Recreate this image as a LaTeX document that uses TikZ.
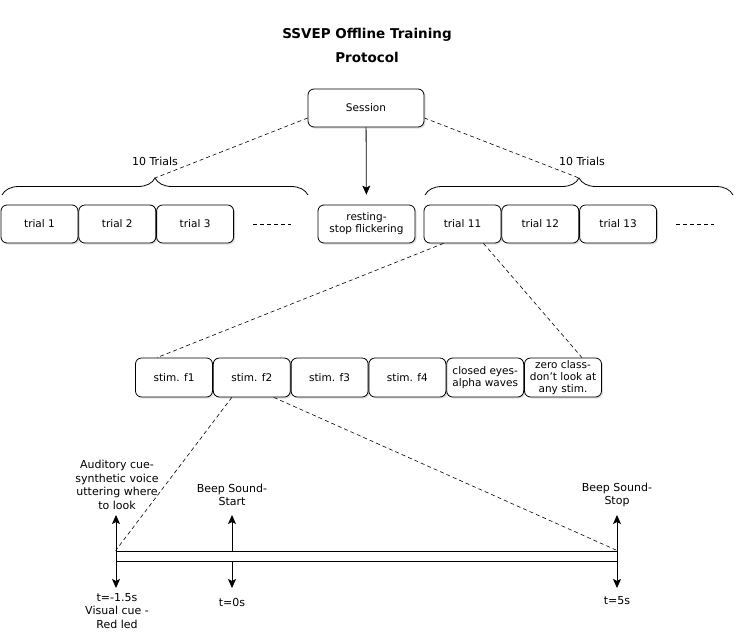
\documentclass[tikz,border=0pt]{standalone}
\usepackage{fontspec}
\setmainfont{DejaVu Sans}
\usetikzlibrary{
  positioning,
  arrows.meta,
  shadows,
  decorations.pathreplacing
}
\tikzset{
  block/.style={
    draw,
    rounded corners=6pt,
    fill=white,
    line width=0.8pt,
    align=center,
    inner sep=1pt,
    minimum width=77pt,
    minimum height=38pt,
    font=\fontsize{10.5}{12}\selectfont,
    drop shadow={shadow xshift=1.5pt, shadow yshift=-1.5pt, opacity=0.25}
  },
  link/.style={
    draw,
    line width=0.6pt,
    dash pattern=on 4pt off 3pt
  },
  tick/.style={
    draw,
    line width=0.8pt,
    -{Stealth[length=9pt,width=8pt,inset=2pt]}
  },
  caption/.style={
    align=center,
    font=\fontsize{11}{13.5}\selectfont
  },
  bracket/.style={
    draw,
    line width=0.8pt,
    decorate,
    decoration={brace, amplitude=17pt}
  }
}

\begin{document}
\begin{tikzpicture}[x=1pt, y=-1pt]
  \useasboundingbox (0,0) rectangle (739,635);

  \node[align=center, font=\bfseries\fontsize{13.5}{24}\selectfont] (title) at (367,45) {SSVEP Offline Training\\Protocol};

  \node[block, minimum width=116pt] (sess) at (366,108) {Session};

  % trials
  \node[block] (t1) at (39.5,224) {trial 1};
  \node[block, right=0pt of t1] (t2) {trial 2};
  \node[block, right=0pt of t2] (t3) {trial 3};
  \node[block, minimum width=97pt] (rest) at (366.5,224) {resting-\\stop flickering};
  \node[block] (t11) at (462.5,224) {trial 11};
  \node[block, right=0pt of t11] (t12) {trial 12};
  \node[block, right=0pt of t12] (t13) {trial 13};
  \draw[link] ([xshift=19pt]t3.east) -- ++(38pt,0);
  \draw[link] ([xshift=19pt]t13.east) -- ++(38pt,0);

  \draw[bracket] (2,195) -- (308,195);
  \draw[bracket] (425,195) -- (733,195);
  \coordinate (ltip) at (155,178);
  \coordinate (rtip) at (579,178);
  \node[caption] (ltrials) at (155,161) {10 Trials};
  \node[caption] (rtrials) at (582,161) {10 Trials};

  \draw[link] ([yshift=-10pt]sess.west) -- (ltip);
  \draw[link] ([yshift=-10pt]sess.east) -- (rtip);
  \draw[tick, shorten >=10pt] (sess) -- (rest);

  % stimuli
  \node[block, minimum height=39pt] (f1) at (174,377.5) {stim. f1};
  \node[block, minimum height=39pt, right=0pt of f1] (f2) {stim. f2};
  \node[block, minimum height=39pt, right=0pt of f2] (f3) {stim. f3};
  \node[block, minimum height=39pt, right=0pt of f3] (f4) {stim. f4};
  \node[block, minimum height=39pt, right=0pt of f4] (eyes) {closed eyes-\\alpha waves};
  \node[block, minimum height=39pt, right=0pt of eyes] (zero) {zero class-\\don't look at\\any stim.};

  \draw[link] ([xshift=-19pt]t11.south) -- ([xshift=-17pt]f1.north);
  \draw[link] ([xshift=21pt]t11.south) -- ([xshift=19pt]zero.north);

  % timeline
  \node[draw, line width=0.8pt, minimum width=501pt, minimum height=10pt, inner sep=0pt] (bar) at (366.5,556) {};
  \draw[link] ([xshift=-20pt]f2.south) -- (bar.north west);
  \draw[link] ([xshift=22pt]f2.south) -- (bar.north east);

  \foreach \x [count=\i] in {116,232,617} {
    \coordinate (up\i) at (\x,515);
    \coordinate (dn\i) at (\x,588);
    \draw[tick] (up\i |- bar.north) -- (up\i);
    \draw[tick] (dn\i |- bar.south) -- (dn\i);
  }

  \node[caption] (cue) at (117,485) {Auditory cue-\\synthetic voice\\uttering where\\to look};
  \node[caption] (start) at (232,495) {Beep Sound-\\Start};
  \node[caption] (stop) at (617,495) {Beep Sound-\\Stop};
  \node[caption] (visual) at (117,611) {t=-1.5s\\Visual cue -\\Red led};
  \node[caption] (tzero) at (232,602) {t=0s};
  \node[caption] (tfive) at (617,601) {t=5s};
\end{tikzpicture}
\end{document}
